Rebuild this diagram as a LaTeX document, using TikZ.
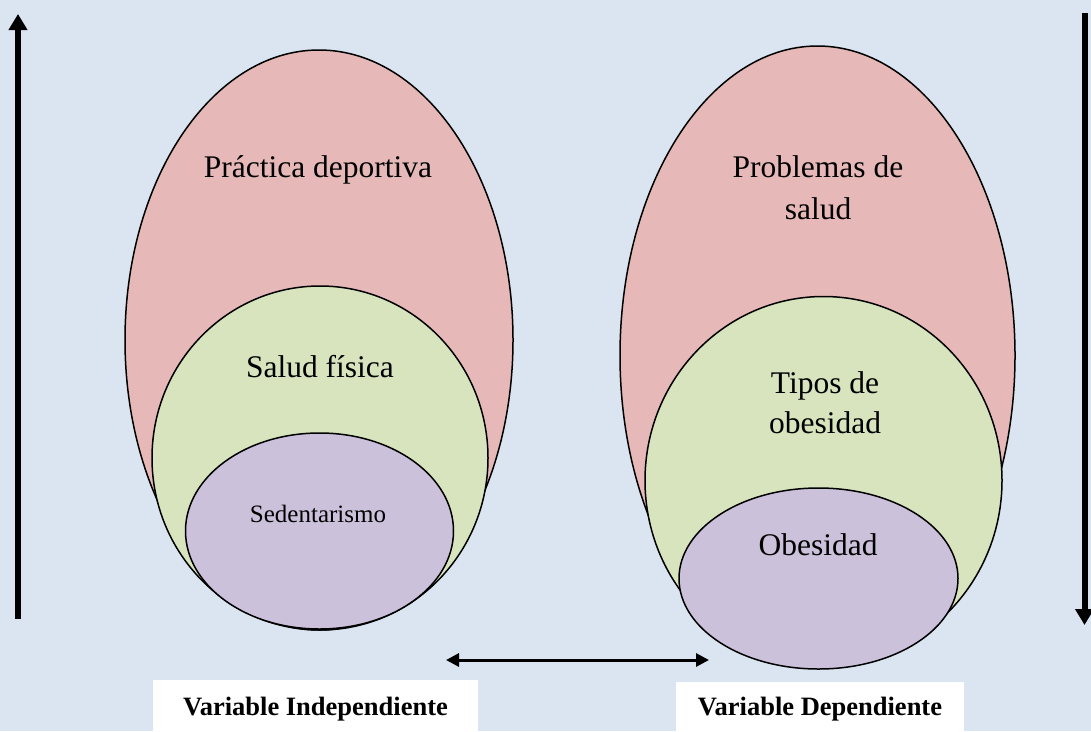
\documentclass[tikz,border=0pt]{standalone}
\usepackage{fontspec}
\setmainfont{Liberation Serif}
\usetikzlibrary{shapes.geometric,arrows.meta}
\definecolor{bgblue}{HTML}{DBE5F1}
\definecolor{redfill}{HTML}{E6B9B8}
\definecolor{greenfill}{HTML}{D7E4BD}
\definecolor{purplefill}{HTML}{CCC1DA}
\tikzset{
  oval/.style={ellipse, draw=black, line width=1.5pt, inner sep=0pt, outer sep=0pt},
  bigtxt/.style={anchor=base, font=\fontsize{31.5}{42}\selectfont, align=center, inner sep=0pt},
  smalltxt/.style={anchor=base, font=\fontsize{25}{30}\selectfont, inner sep=0pt},
  labelbox/.style={fill=white, draw=none, inner sep=0pt, anchor=north west},
  labeltxt/.style={anchor=base, font=\bfseries\fontsize{26.5}{32}\selectfont, inner sep=0pt},
  vertarrow/.style={line width=6pt, -{Triangle[length=16pt 0 0,width=18pt 0 0]}},
  hortarrow/.style={line width=3pt, {Triangle[length=13pt 0 0,width=13pt 0 0]}-{Triangle[length=13pt 0 0,width=13pt 0 0]}}
}
\begin{document}
\begin{tikzpicture}[x=1pt,y=-1pt]
\fill[bgblue] (0,0) rectangle (1091,731);
\useasboundingbox (0,0) rectangle (1091,731);
% left group
\node[oval, fill=redfill, minimum width=388pt, minimum height=580pt] (redL) at (319,340) {};
\node[oval, fill=greenfill, minimum width=336pt, minimum height=344pt] (greenL) at (320,458) {};
\node[oval, fill=purplefill, minimum width=268pt, minimum height=196pt] (purpleL) at (319.5,531) {};
% right group
\node[oval, fill=redfill, minimum width=395pt, minimum height=619pt] (redR) at (817.5,355.5) {};
\node[oval, fill=greenfill, minimum width=357pt, minimum height=368pt] (greenR) at (823.5,480.5) {};
\node[oval, fill=purplefill, minimum width=279pt, minimum height=181pt] (purpleR) at (818.5,578.5) {};
% texts
\node[bigtxt] (tPractica) at (318,177) {Práctica deportiva};
\node[bigtxt] (tSalud) at (320,377) {Salud física};
\node[smalltxt] (tSeden) at (318,522) {Sedentarismo};
\node[bigtxt] (tProb1) at (818,177) {Problemas de};
\node[bigtxt] (tProb2) at (818,219) {salud};
\node[bigtxt] (tTipos1) at (825,393) {Tipos de};
\node[bigtxt] (tTipos2) at (825,433) {obesidad};
\node[bigtxt] (tObes) at (818,555) {Obesidad};
% label boxes
\node[labelbox, minimum width=325pt, minimum height=55pt] (boxL) at (153,680) {};
\node[labelbox, minimum width=288pt, minimum height=55pt] (boxR) at (676,682) {};
\node[labeltxt] (labL) at (315.5,715) {Variable Independiente};
\node[labeltxt] (labR) at (820,715) {Variable Dependiente};
% arrows
\coordinate (upS) at (18,619);
\coordinate (upE) at (18,14);
\coordinate (dnS) at (1084.5,13);
\coordinate (dnE) at (1084.5,625);
\coordinate (hL) at (446,660);
\coordinate (hR) at (709,660);
\draw[vertarrow] (upS) -- (upE);
\draw[vertarrow] (dnS) -- (dnE);
\draw[hortarrow] (hL) -- (hR);
\end{tikzpicture}
\end{document}
